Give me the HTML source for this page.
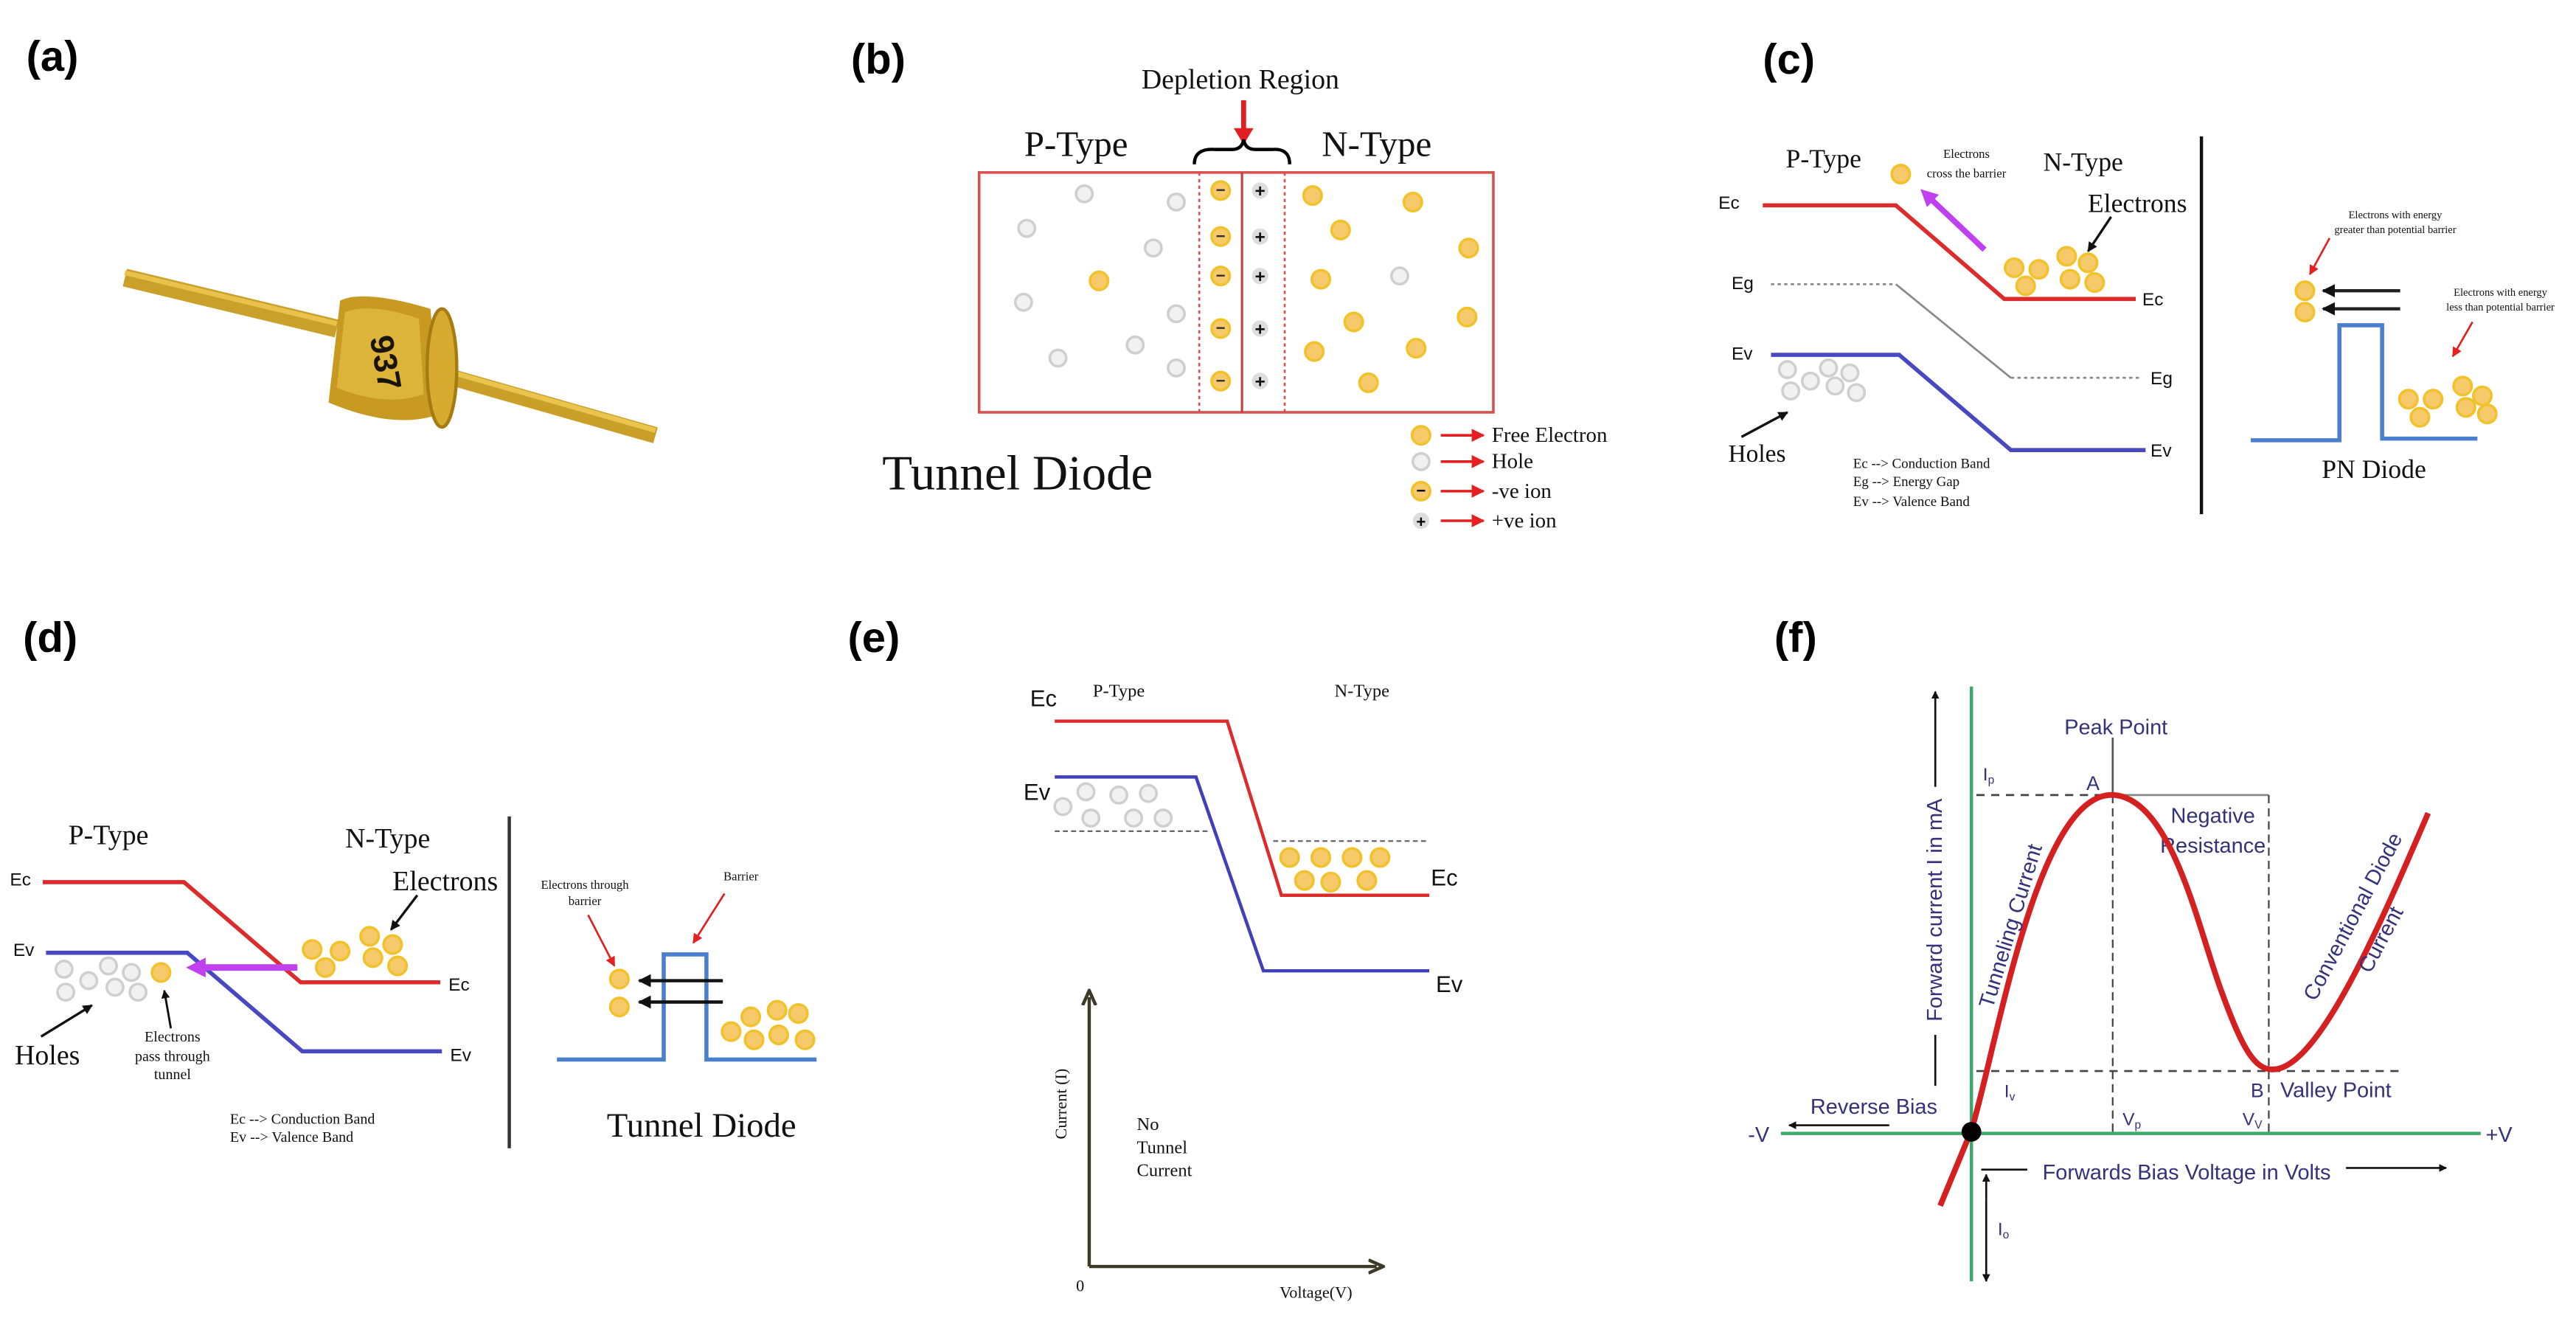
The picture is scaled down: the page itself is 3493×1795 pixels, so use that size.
<!DOCTYPE html>
<html><head><meta charset="utf-8"><style>
html,body{margin:0;padding:0;background:#fff}
svg{display:block}
.lbl{font-family:"Liberation Sans",sans-serif;font-weight:bold;font-size:26px;fill:#000}
.s{font-family:"Liberation Serif",serif;fill:#111}
.a{font-family:"Liberation Sans",sans-serif;fill:#111}
.f{font-family:"Liberation Sans",sans-serif;fill:#35317a}
</style></head><body>
<svg width="3493" height="1795" viewBox="0 0 1568 806" preserveAspectRatio="none" xmlns="http://www.w3.org/2000/svg">
<defs>
<g id="el"><circle r="5.5" fill="#f6c96a" stroke="#f2c22a" stroke-width="1.6"/></g>
<g id="ho"><circle r="5" fill="#f1f1f1" stroke="#cfcfcf" stroke-width="1.6"/></g>
<marker id="ar" viewBox="0 0 10 10" refX="9" refY="5" markerWidth="5" markerHeight="5" orient="auto"><path d="M0,0L10,5L0,10z" fill="#e52020"/></marker>
<marker id="ak" viewBox="0 0 10 10" refX="9" refY="5" markerWidth="4" markerHeight="4" orient="auto"><path d="M0,0L10,5L0,10z" fill="#111"/></marker>
<marker id="am" viewBox="0 0 10 10" refX="6" refY="5" markerWidth="3" markerHeight="3" orient="auto"><path d="M0,0L10,5L0,10z" fill="#c040f0"/></marker>
<marker id="ao" viewBox="0 0 10 10" refX="5" refY="5" markerWidth="5" markerHeight="5" orient="auto"><path d="M0,1L9,5L0,9" fill="none" stroke="#3d3a28" stroke-width="2"/></marker>
</defs>

<!-- (a) -->
<text class="lbl" x="16" y="43">(a)</text>
<line x1="76" y1="169" x2="205" y2="200" stroke="#c9a02a" stroke-width="11"/>
<line x1="76" y1="166" x2="205" y2="197" stroke="#e8c24a" stroke-width="3"/>
<line x1="262" y1="226" x2="399" y2="265" stroke="#c99f28" stroke-width="10"/>
<line x1="262" y1="223" x2="399" y2="262" stroke="#e9c54f" stroke-width="3"/>
<path d="M207,183 Q222,176 262,188 L268,252 Q240,262 200,245 Z" fill="#c89a22"/>
<path d="M210,190 Q225,184 255,194 L258,240 Q235,248 205,236 Z" fill="#ddb43a"/>
<ellipse cx="269" cy="224" rx="9" ry="36" fill="#d6ab30" stroke="#a57c12" stroke-width="2"/>
<text x="228" y="222" transform="rotate(80 228 222)" font-family="Liberation Sans,sans-serif" font-weight="bold" font-size="20" fill="#1a1406" text-anchor="middle">937</text>

<!-- (b) -->
<text class="lbl" x="518" y="45">(b)</text>
<text class="s" x="755" y="54" font-size="17" text-anchor="middle">Depletion Region</text>
<line x1="757" y1="61" x2="757" y2="80" stroke="#e02020" stroke-width="3"/>
<path d="M751,78 L763,78 L757,88 Z" fill="#e02020"/>
<path d="M727,100 Q727,90 740,91 L750,91 Q756,91 757,85 Q758,91 764,91 L774,91 Q785,90 785,100" fill="none" stroke="#000" stroke-width="2"/>
<text class="s" x="655" y="95" font-size="22" text-anchor="middle">P-Type</text>
<text class="s" x="838" y="95" font-size="22" text-anchor="middle">N-Type</text>
<rect x="596" y="105" width="313" height="146" fill="none" stroke="#d85050" stroke-width="1.6"/>
<line x1="730" y1="105" x2="730" y2="251" stroke="#d85050" stroke-width="1.2" stroke-dasharray="2,2"/>
<line x1="782" y1="105" x2="782" y2="251" stroke="#d85050" stroke-width="1.2" stroke-dasharray="2,2"/>
<line x1="756" y1="105" x2="756" y2="251" stroke="#c04040" stroke-width="1.4"/>
<g>
<use href="#el" x="743" y="116"/><use href="#el" x="743" y="144"/><use href="#el" x="743" y="168"/><use href="#el" x="743" y="200"/><use href="#el" x="743" y="232"/>
</g>
<g font-family="Liberation Sans,sans-serif" font-size="10" font-weight="bold" text-anchor="middle" fill="#333">
<text x="743" y="119">−</text><text x="743" y="147">−</text><text x="743" y="171">−</text><text x="743" y="203">−</text><text x="743" y="235">−</text>
</g>
<g fill="#ddd"><circle cx="767" cy="116" r="5"/><circle cx="767" cy="144" r="5"/><circle cx="767" cy="168" r="5"/><circle cx="767" cy="200" r="5"/><circle cx="767" cy="232" r="5"/></g>
<g font-family="Liberation Sans,sans-serif" font-size="11" font-weight="bold" text-anchor="middle" fill="#111">
<text x="767" y="120">+</text><text x="767" y="148">+</text><text x="767" y="172">+</text><text x="767" y="204">+</text><text x="767" y="236">+</text>
</g>
<use href="#ho" x="660" y="118"/><use href="#ho" x="716" y="123"/><use href="#ho" x="625" y="139"/><use href="#ho" x="702" y="151"/><use href="#ho" x="623" y="184"/><use href="#ho" x="716" y="191"/><use href="#ho" x="691" y="210"/><use href="#ho" x="644" y="218"/><use href="#ho" x="716" y="224"/>
<use href="#el" x="669" y="171"/>
<use href="#el" x="799" y="119"/><use href="#el" x="860" y="123"/><use href="#el" x="816" y="140"/><use href="#el" x="894" y="151"/><use href="#el" x="804" y="170"/><use href="#el" x="824" y="196"/><use href="#el" x="893" y="193"/><use href="#el" x="800" y="214"/><use href="#el" x="862" y="212"/><use href="#el" x="833" y="233"/>
<use href="#ho" x="852" y="168"/>
<use href="#el" x="865" y="265"/><use href="#ho" x="865" y="281"/><use href="#el" x="865" y="299"/><circle cx="865" cy="317" r="5" fill="#ddd"/>
<text x="865" y="302" font-size="10" font-weight="bold" text-anchor="middle" font-family="Liberation Sans,sans-serif">−</text>
<text x="865" y="321" font-size="10" font-weight="bold" text-anchor="middle" font-family="Liberation Sans,sans-serif">+</text>
<g stroke="#e02020" stroke-width="1.6" marker-end="url(#ar)">
<line x1="877" y1="265" x2="903" y2="265"/><line x1="877" y1="281" x2="903" y2="281"/><line x1="877" y1="299" x2="903" y2="299"/><line x1="877" y1="317" x2="903" y2="317"/>
</g>
<g class="s" font-size="13"><text x="908" y="269">Free Electron</text><text x="908" y="285">Hole</text><text x="908" y="303">-ve ion</text><text x="908" y="321">+ve ion</text></g>
<text class="s" x="537" y="298" font-size="30">Tunnel Diode</text>

<!-- (c) -->
<text class="lbl" x="1073" y="45">(c)</text>
<line x1="1340" y1="83" x2="1340" y2="313" stroke="#111" stroke-width="2"/>
<text class="s" x="1110" y="102" font-size="16" text-anchor="middle">P-Type</text>
<text class="s" x="1268" y="104" font-size="16" text-anchor="middle">N-Type</text>
<g class="s" font-size="7.5" text-anchor="middle"><text x="1197" y="96">Electrons</text><text x="1197" y="108">cross the barrier</text></g>
<use href="#el" x="1157" y="106"/>
<text class="a" x="1046" y="127" font-size="11">Ec</text>
<polyline points="1073,125 1154,125 1220,182 1300,182" fill="none" stroke="#dd2a2a" stroke-width="2.5"/>
<text class="a" x="1304" y="186" font-size="11">Ec</text>
<line x1="1208" y1="152" x2="1172" y2="118" stroke="#c040f0" stroke-width="3.5" marker-end="url(#am)"/>
<text class="s" x="1301" y="129" font-size="16" text-anchor="middle">Electrons</text>
<line x1="1285" y1="132" x2="1271" y2="153" stroke="#111" stroke-width="1.5" marker-end="url(#ak)"/>
<use href="#el" x="1226" y="163"/><use href="#el" x="1241" y="164"/><use href="#el" x="1233" y="174"/><use href="#el" x="1258" y="156"/><use href="#el" x="1271" y="160"/><use href="#el" x="1260" y="170"/><use href="#el" x="1275" y="172"/>
<text class="a" x="1054" y="176" font-size="11">Eg</text>
<line x1="1078" y1="173" x2="1154" y2="173" stroke="#888" stroke-width="1.2" stroke-dasharray="2,2"/>
<line x1="1154" y1="173" x2="1224" y2="230" stroke="#888" stroke-width="1.2"/>
<line x1="1224" y1="230" x2="1304" y2="230" stroke="#888" stroke-width="1.2" stroke-dasharray="2,2"/>
<text class="a" x="1309" y="234" font-size="11">Eg</text>
<text class="a" x="1054" y="219" font-size="11">Ev</text>
<polyline points="1078,216 1156,216 1224,274 1306,274" fill="none" stroke="#4848c0" stroke-width="2.5"/>
<text class="a" x="1309" y="278" font-size="11">Ev</text>
<use href="#ho" x="1088" y="225"/><use href="#ho" x="1102" y="232"/><use href="#ho" x="1113" y="224"/><use href="#ho" x="1126" y="227"/><use href="#ho" x="1090" y="238"/><use href="#ho" x="1117" y="235"/><use href="#ho" x="1130" y="239"/>
<line x1="1060" y1="266" x2="1088" y2="251" stroke="#111" stroke-width="1.5" marker-end="url(#ak)"/>
<text class="s" x="1052" y="281" font-size="15">Holes</text>
<g class="s" font-size="8.5" fill="#333"><text x="1128" y="285">Ec --&gt; Conduction Band</text><text x="1128" y="296">Eg --&gt; Energy Gap</text><text x="1128" y="308">Ev --&gt; Valence Band</text></g>
<polyline points="1370,268 1424,268 1424,198 1450,198 1450,267 1508,267" fill="none" stroke="#4a7fd0" stroke-width="2.5"/>
<use href="#el" x="1403" y="177"/><use href="#el" x="1403" y="190"/>
<line x1="1461" y1="177" x2="1414" y2="177" stroke="#222" stroke-width="2" marker-end="url(#ak)"/>
<line x1="1461" y1="188" x2="1414" y2="188" stroke="#222" stroke-width="2" marker-end="url(#ak)"/>
<g class="s" font-size="6.5" text-anchor="middle"><text x="1458" y="133">Electrons with energy</text><text x="1458" y="142">greater than potential barrier</text><text x="1522" y="180">Electrons with energy</text><text x="1522" y="189">less than potential barrier</text></g>
<line x1="1418" y1="145" x2="1406" y2="167" stroke="#e02020" stroke-width="1.2" marker-end="url(#ar)"/>
<line x1="1505" y1="196" x2="1493" y2="217" stroke="#e02020" stroke-width="1.2" marker-end="url(#ar)"/>
<use href="#el" x="1466" y="243"/><use href="#el" x="1481" y="243"/><use href="#el" x="1473" y="254"/><use href="#el" x="1499" y="235"/><use href="#el" x="1511" y="241"/><use href="#el" x="1501" y="248"/><use href="#el" x="1514" y="252"/>
<text class="s" x="1445" y="291" font-size="16" text-anchor="middle">PN Diode</text>

<!-- (d) -->
<text class="lbl" x="14" y="397">(d)</text>
<text class="s" x="66" y="514" font-size="17" text-anchor="middle">P-Type</text>
<text class="s" x="236" y="516" font-size="17" text-anchor="middle">N-Type</text>
<text class="a" x="6" y="539" font-size="11">Ec</text>
<polyline points="26,537 112,537 183,598 268,598" fill="none" stroke="#dd2a2a" stroke-width="2.5"/>
<text class="a" x="273" y="603" font-size="11">Ec</text>
<text class="a" x="8" y="582" font-size="11">Ev</text>
<polyline points="28,580 114,580 184,640 269,640" fill="none" stroke="#4848c0" stroke-width="2.5"/>
<text class="a" x="274" y="646" font-size="11">Ev</text>
<text class="s" x="271" y="542" font-size="17" text-anchor="middle">Electrons</text>
<line x1="254" y1="545" x2="238" y2="566" stroke="#111" stroke-width="1.5" marker-end="url(#ak)"/>
<use href="#el" x="190" y="578"/><use href="#el" x="207" y="579"/><use href="#el" x="198" y="589"/><use href="#el" x="225" y="570"/><use href="#el" x="239" y="575"/><use href="#el" x="227" y="583"/><use href="#el" x="242" y="588"/>
<line x1="181" y1="589" x2="118" y2="589" stroke="#c040f0" stroke-width="4" marker-end="url(#am)"/>
<use href="#ho" x="39" y="590"/><use href="#ho" x="66" y="588"/><use href="#ho" x="80" y="592"/><use href="#ho" x="54" y="597"/><use href="#ho" x="40" y="604"/><use href="#ho" x="70" y="601"/><use href="#ho" x="84" y="604"/>
<use href="#el" x="98" y="592"/>
<line x1="104" y1="626" x2="100" y2="603" stroke="#111" stroke-width="1.3" marker-end="url(#ak)"/>
<g class="s" font-size="9" text-anchor="middle"><text x="105" y="634">Electrons</text><text x="105" y="646">pass through</text><text x="105" y="657">tunnel</text></g>
<line x1="25" y1="631" x2="56" y2="612" stroke="#111" stroke-width="1.5" marker-end="url(#ak)"/>
<text class="s" x="9" y="648" font-size="17">Holes</text>
<g class="s" font-size="9" fill="#333"><text x="140" y="684">Ec --&gt; Conduction Band</text><text x="140" y="695">Ev --&gt; Valence Band</text></g>
<line x1="310" y1="497" x2="310" y2="699" stroke="#333" stroke-width="2"/>
<polyline points="339,645 404,645 404,581 430,581 430,645 497,645" fill="none" stroke="#4a7fd0" stroke-width="2.5"/>
<use href="#el" x="377" y="596"/><use href="#el" x="377" y="613"/>
<line x1="440" y1="597" x2="389" y2="597" stroke="#111" stroke-width="2" marker-end="url(#ak)"/>
<line x1="440" y1="610" x2="389" y2="610" stroke="#111" stroke-width="2" marker-end="url(#ak)"/>
<g class="s" font-size="7.5" text-anchor="middle"><text x="356" y="541">Electrons through</text><text x="356" y="551">barrier</text><text x="451" y="536">Barrier</text></g>
<line x1="358" y1="557" x2="374" y2="588" stroke="#e02020" stroke-width="1.2" marker-end="url(#ar)"/>
<line x1="441" y1="544" x2="422" y2="574" stroke="#e02020" stroke-width="1.2" marker-end="url(#ar)"/>
<use href="#el" x="457" y="619"/><use href="#el" x="473" y="615"/><use href="#el" x="486" y="617"/><use href="#el" x="445" y="628"/><use href="#el" x="459" y="633"/><use href="#el" x="474" y="630"/><use href="#el" x="490" y="633"/>
<text class="s" x="427" y="692" font-size="21" text-anchor="middle">Tunnel Diode</text>

<!-- (e) -->
<text class="lbl" x="516" y="397">(e)</text>
<text class="a" x="627" y="430" font-size="14">Ec</text>
<text class="s" x="681" y="424" font-size="11" text-anchor="middle">P-Type</text>
<text class="s" x="829" y="424" font-size="11" text-anchor="middle">N-Type</text>
<polyline points="642,439 747,439 780,545 870,545" fill="none" stroke="#dd2a2a" stroke-width="2"/>
<text class="a" x="871" y="539" font-size="14">Ec</text>
<text class="a" x="623" y="487" font-size="14">Ev</text>
<polyline points="642,473 728,473 769,591 870,591" fill="none" stroke="#4040b8" stroke-width="2"/>
<text class="a" x="874" y="604" font-size="14">Ev</text>
<line x1="642" y1="506" x2="735" y2="506" stroke="#666" stroke-width="1" stroke-dasharray="3,2"/>
<line x1="775" y1="512" x2="870" y2="512" stroke="#666" stroke-width="1" stroke-dasharray="3,2"/>
<use href="#ho" x="647" y="491"/><use href="#ho" x="661" y="482"/><use href="#ho" x="681" y="484"/><use href="#ho" x="699" y="483"/><use href="#ho" x="664" y="498"/><use href="#ho" x="690" y="498"/><use href="#ho" x="708" y="498"/>
<use href="#el" x="785" y="522"/><use href="#el" x="804" y="522"/><use href="#el" x="823" y="522"/><use href="#el" x="840" y="522"/><use href="#el" x="794" y="536"/><use href="#el" x="810" y="537"/><use href="#el" x="832" y="536"/>
<line x1="663" y1="771" x2="663" y2="607" stroke="#3d3a28" stroke-width="2" marker-end="url(#ao)"/>
<line x1="663" y1="771" x2="838" y2="771" stroke="#3d3a28" stroke-width="2" marker-end="url(#ao)"/>
<text class="s" x="649" y="672" font-size="10" text-anchor="middle" transform="rotate(-90 649 672)">Current (I)</text>
<g class="s" font-size="11" fill="#333"><text x="692" y="688">No</text><text x="692" y="702">Tunnel</text><text x="692" y="716">Current</text></g>
<text class="s" x="655" y="786" font-size="10">0</text>
<text class="s" x="801" y="790" font-size="10" text-anchor="middle">Voltage(V)</text>

<!-- (f) -->
<text class="lbl" x="1080" y="397">(f)</text>
<line x1="1200" y1="418" x2="1200" y2="780" stroke="#3aaa6a" stroke-width="2"/>
<line x1="1084" y1="690" x2="1510" y2="690" stroke="#3aaa6a" stroke-width="2"/>
<g class="f" font-size="13"><text x="1064" y="695">-V</text><text x="1513" y="695">+V</text></g>
<line x1="1178" y1="661" x2="1178" y2="630" stroke="#111" stroke-width="1.2"/>
<line x1="1178" y1="479" x2="1178" y2="421" stroke="#111" stroke-width="1.2" marker-end="url(#ak)"/>
<text class="f" x="1182" y="554" font-size="13" text-anchor="middle" transform="rotate(-90 1182 554)">Forward current I in mA</text>
<text class="f" x="1288" y="447" font-size="13" text-anchor="middle">Peak Point</text>
<line x1="1286" y1="449" x2="1286" y2="483" stroke="#555" stroke-width="1.2"/>
<text class="f" x="1207" y="475" font-size="11">I<tspan font-size="7" dy="2">p</tspan></text>
<text class="f" x="1270" y="481" font-size="12">A</text>
<line x1="1203" y1="484" x2="1285" y2="484" stroke="#444" stroke-width="1.2" stroke-dasharray="5,4"/>
<line x1="1285" y1="484" x2="1381" y2="484" stroke="#888" stroke-width="1.2"/>
<line x1="1381" y1="484" x2="1381" y2="690" stroke="#444" stroke-width="1" stroke-dasharray="5,3"/>
<line x1="1286" y1="484" x2="1286" y2="690" stroke="#444" stroke-width="1" stroke-dasharray="5,3"/>
<line x1="1203" y1="652" x2="1464" y2="652" stroke="#444" stroke-width="1.2" stroke-dasharray="5,4"/>
<g class="f" font-size="13" text-anchor="middle"><text x="1347" y="501">Negative</text><text x="1347" y="519">Resistance</text></g>
<text class="f" x="1220" y="668" font-size="11">I<tspan font-size="7" dy="2">v</tspan></text>
<text class="f" x="1370" y="668" font-size="12">B</text>
<text class="f" x="1388" y="668" font-size="13">Valley Point</text>
<text class="f" x="1292" y="685" font-size="11">V<tspan font-size="7" dy="2">p</tspan></text>
<text class="f" x="1365" y="685" font-size="11">V<tspan font-size="7" dy="2">V</tspan></text>
<text class="f" x="1102" y="678" font-size="13">Reverse Bias</text>
<line x1="1150" y1="685" x2="1089" y2="685" stroke="#111" stroke-width="1.2" marker-end="url(#ak)"/>
<path d="M1181,734 L1200,688 C1215,640 1240,480 1287,484 C1322,487 1338,565 1352,603 C1364,636 1372,652 1384,651 C1412,650 1450,560 1478,495" fill="none" stroke="#d42020" stroke-width="3.5"/>
<circle cx="1200" cy="689" r="6" fill="#000"/>
<text class="f" x="1228" y="565" font-size="13" text-anchor="middle" transform="rotate(-73 1228 565)">Tunneling Current</text>
<text class="f" x="1436" y="560" font-size="13" text-anchor="middle" transform="rotate(-62 1436 560)">Conventional Diode</text>
<text class="f" x="1453" y="574" font-size="13" text-anchor="middle" transform="rotate(-62 1453 574)">Current</text>
<text class="f" x="1331" y="718" font-size="13" text-anchor="middle">Forwards Bias Voltage in Volts</text>
<line x1="1206" y1="712" x2="1234" y2="712" stroke="#111" stroke-width="1.2"/>
<line x1="1428" y1="711" x2="1489" y2="711" stroke="#111" stroke-width="1.2" marker-end="url(#ak)"/>
<line x1="1209" y1="730" x2="1209" y2="715" stroke="#111" stroke-width="1.2" marker-end="url(#ak)"/>
<line x1="1209" y1="730" x2="1209" y2="780" stroke="#111" stroke-width="1.2" marker-end="url(#ak)"/>
<text class="f" x="1216" y="752" font-size="11">I<tspan font-size="7" dy="2">o</tspan></text>
</svg>
</body></html>
